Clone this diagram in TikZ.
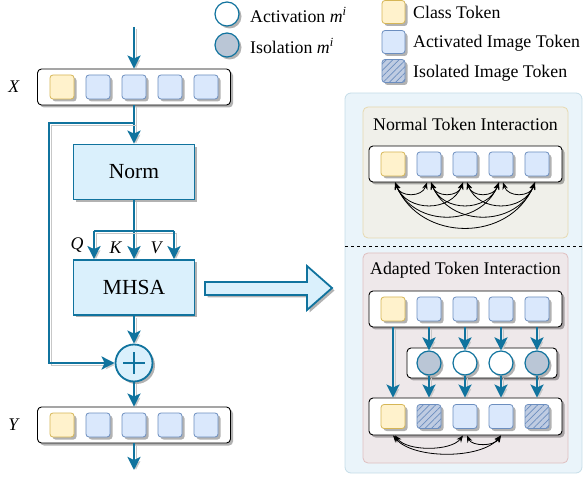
\documentclass[tikz,border=0pt]{standalone}
\usepackage{fontspec}
\setmainfont{Liberation Serif}
\usetikzlibrary{arrows.meta,shadows,patterns.meta,calc}
\definecolor{blu}{HTML}{10739E}
\definecolor{blkfill}{HTML}{DAF0FC}
\definecolor{tokfill}{HTML}{DAE8FC}
\definecolor{tokdraw}{HTML}{6C8EBF}
\definecolor{clsfill}{HTML}{FFF2CC}
\definecolor{clsdraw}{HTML}{D6B656}
\definecolor{isofill}{HTML}{BFCCE2}
\definecolor{grayfill}{HTML}{BAC6D6}
\definecolor{panfill}{HTML}{EAF4FA}
\definecolor{pandraw}{HTML}{C5DDE8}
\definecolor{normfill}{HTML}{F0F0EA}
\definecolor{normdraw}{HTML}{E6D9B0}
\definecolor{adafill}{HTML}{EEE8EA}
\definecolor{adadraw}{HTML}{DFBFC0}
\begin{document}
\begin{tikzpicture}[x=1pt, y=-1pt,
  shad/.style={drop shadow={shadow xshift=2.5pt, shadow yshift=-2.5pt, fill=black, opacity=0.3}},
  tok/.style={rectangle, rounded corners=3pt, minimum size=24pt, inner sep=0pt, fill=tokfill, draw=tokdraw, line width=0.8pt, shad},
  cls/.style={tok, fill=clsfill, draw=clsdraw},
  iso/.style={tok, fill=isofill, postaction={pattern={Lines[angle=45, distance=4.5pt, line width=0.7pt]}, pattern color=tokdraw}},
  row/.style={rectangle, rounded corners=4pt, minimum width=193pt, minimum height=36pt, inner sep=0pt, fill=white, draw=black, line width=0.9pt, shad},
  blk/.style={rectangle, minimum width=121pt, minimum height=55pt, fill=blkfill, draw=blu, line width=1.8pt, shad, font=\fontsize{21.5}{24}\selectfont},
  msk/.style={circle, minimum size=24pt, inner sep=0pt, draw=blu, line width=1.2pt, fill=white, shad},
  mskoff/.style={msk, fill=grayfill},
  lbl/.style={inner sep=0pt, font=\fontsize{17.8}{20}\selectfont},
  txt/.style={lbl, anchor=west},
  lshad/.style={preaction={draw=black!22, transform canvas={shift={(2pt,-2pt)}}}},
  flow/.style={draw=blu, line width=2.5pt, lshad, -{Stealth[length=13pt, width=13pt, inset=3pt]}},
  line/.style={draw=blu, line width=2.5pt, lshad},
  arc/.style={draw=black, line width=0.8pt, {Stealth[length=7pt, width=5.5pt]}-{Stealth[length=7pt, width=5.5pt]}}]
\useasboundingbox (0,0) rectangle (584,478);

% legend
\node[msk] (la) at (227,14) {};
\node[mskoff] (li) at (227,45) {};
\node[txt] (lat) at (250,15) {Activation \textit{m}\textsuperscript{\textit{i}}};
\node[txt] (lit) at (250,46) {Isolation \textit{m}\textsuperscript{\textit{i}}};
\node[cls, minimum size=23pt] (lc) at (393.5,12) {};
\node[tok, minimum size=23pt] (lt) at (393.5,42) {};
\node[iso, minimum size=23pt] (ls) at (393.5,71) {};
\node[txt] (lct) at (413,12) {Class Token};
\node[txt] (ltt) at (413,43) {Activated Image Token};
\node[txt] (lst) at (413,73) {Isolated Image Token};

% left branch
\coordinate (in) at (134,27);
\node[row] (xrow) at (134,87) {};
\node[row] (yrow) at (134,425) {};
\foreach \i/\s in {1/cls,2/tok,3/tok,4/tok,5/tok}{
  \node[\s] (x\i) at ({26+36*\i},87) {};
  \node[\s] (y\i) at ({26+36*\i},425) {};
}
\node[lbl] (xl) at (14,87) {\textit{X}};
\node[lbl] (yl) at (14,425) {\textit{Y}};
\node[blk] (norm) at (134,172) {Norm};
\node[blk] (mhsa) at (134,287.5) {MHSA};
\node[circle, minimum size=37pt, inner sep=0pt, fill=blkfill, draw=blu, line width=1.8pt, shad,
  path picture={\draw[line width=2.2pt, blu] ([xshift=-11pt]path picture bounding box.center) -- ([xshift=11pt]path picture bounding box.center);
    \draw[line width=2.2pt, blu] ([yshift=-11pt]path picture bounding box.center) -- ([yshift=11pt]path picture bounding box.center);}] (plus) at (134,363) {};
\coordinate (out) at (134,470);
\coordinate (sk) at (134,123);
\coordinate (skl) at (49,123);
\coordinate (qk) at (134,231);
\coordinate (ql) at (94,231);
\coordinate (qr) at (174,231);

\draw[flow] (in) -- (xrow);
\draw[flow] (xrow) -- (norm);
\draw[flow] (sk) -- (skl) |- (plus);
\draw[flow] (norm) -- (mhsa);
\draw[line] (ql) -- (qr);
\draw[flow] (ql) -- (ql |- mhsa.north);
\draw[flow] (qr) -- (qr |- mhsa.north);
\draw[flow] (mhsa) -- (plus);
\draw[flow] (plus) -- (yrow);
\draw[flow] (yrow) -- (out);
\node[lbl] (q) at (77,245) {\textit{Q}};
\node[lbl] (k) at (116,248) {\textit{K}};
\node[lbl] (v) at (157,248) {\textit{V}};

% big arrow
\draw[fill=blkfill, draw=blu, line width=1.8pt, shad] (205,282) -- (307,282) -- (307,266) -- (332,288) -- (307,310) -- (307,295) -- (205,295) -- cycle;

% right panel
\draw[fill=panfill, draw=pandraw, line width=0.8pt, rounded corners=6pt] (345,93) rectangle (582,473);
\draw[fill=normfill, draw=normdraw, line width=0.8pt, rounded corners=5pt] (363,107) rectangle (568,238);
\draw[fill=adafill, draw=adadraw, line width=0.8pt, rounded corners=5pt] (363,253) rectangle (568,463);
\draw[dashed, line width=0.8pt] (345,246) -- (584,246);
\node[lbl] (nt) at (465.5,124) {Normal Token Interaction};
\node[lbl] (at) at (465.5,270) {Adapted Token Interaction};

% normal interaction
\node[row] (nrow) at (465.5,164) {};
\node[row] (arow) at (465.5,309) {};
\node[row, minimum width=150pt, minimum height=30pt] (mrow) at (482,363) {};
\node[row, minimum height=37pt] (brow) at (465.5,416.5) {};
\foreach \i/\s/\b in {1/cls/cls,2/tok/iso,3/tok/tok,4/tok/tok,5/tok/iso}{
  \node[\s] (n\i) at ({357+36*\i},164) {};
  \node[\s] (a\i) at ({357+36*\i},309) {};
  \node[\b] (b\i) at ({357+36*\i},416.5) {};
}
\foreach \i in {1,...,4}{
  \pgfmathtruncatemacro{\ni}{\i+1}
  \foreach \j in {\ni,...,5}{
    \pgfmathsetmacro{\dd}{15*(\j-\i)}
    \pgfmathsetmacro{\hh}{7*(\j-\i)}
    \draw[arc] ([xshift=2pt]n\i |- nrow.south) .. controls ($(n\i |- nrow.south)+(\hh,\dd)$) and ($(n\j |- nrow.south)+(-\hh,\dd)$) .. ([xshift=-2pt]n\j |- nrow.south);
  }
}

% adapted interaction
\node[mskoff] (m2) at (429,363) {};
\node[msk] (m3) at (465,363) {};
\node[msk] (m4) at (501,363) {};
\node[mskoff] (m5) at (537,363) {};
\draw[flow] (a1 |- arow.south) -- (b1 |- brow.north);
\foreach \i in {2,...,5}{
  \draw[flow] (a\i |- arow.south) -- (m\i);
  \draw[flow] (m\i) -- (b\i |- brow.north);
}
\draw[arc] ([xshift=2pt]b1 |- brow.south) .. controls ($(b1 |- brow.south)+(14,16)$) and ($(b3 |- brow.south)+(-14,16)$) .. ([xshift=-2pt]b3 |- brow.south);
\draw[arc] ([xshift=2pt]b3 |- brow.south) .. controls ($(b3 |- brow.south)+(7,11)$) and ($(b4 |- brow.south)+(-7,11)$) .. (b4 |- brow.south);
\draw[arc] (b1 |- brow.south) .. controls ($(b1 |- brow.south)+(20,24)$) and ($(b4 |- brow.south)+(-20,24)$) .. (b4 |- brow.south);
\end{tikzpicture}
\end{document}
